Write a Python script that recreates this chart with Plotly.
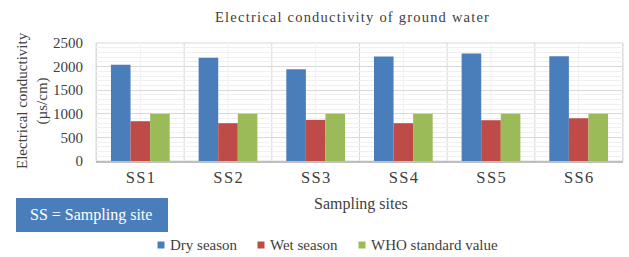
import plotly.graph_objects as go

sites = ["SS1", "SS2", "SS3", "SS4", "SS5", "SS6"]
dry = [2040, 2190, 1945, 2215, 2280, 2220]
wet = [843, 801, 871, 801, 864, 905]
who = [1000, 1000, 1000, 1000, 1000, 1000]
series_names = ["Dry season", "Wet season", "WHO standard value"]
colors = ["#4A7EBB", "#BE4B48", "#9BBB59"]

FONT = "Liberation Serif"
TXT = "#404040"
HS = "\u200a"

# plot area in pixels: x 96..623, y 43..161
L, R, T, B = 96, 623, 43, 161
W, H = R - L, B - T
px = lambda x: (x - L) / W
py = lambda y: (B - y) / H

fig = go.Figure()
for name, vals, col in zip(series_names, [dry, wet, who], colors):
    fig.add_bar(x=sites, y=vals, name=name, marker_color=col, marker_line_width=0)

fig.update_layout(
    width=629, height=257,
    margin=dict(l=L, r=629 - R, t=T, b=257 - B),
    paper_bgcolor="white", plot_bgcolor="white",
    font=dict(family=FONT, color=TXT),
    barmode="group", bargap=0.33, bargroupgap=0,
    title=dict(text=HS.join("Electrical conductivity of ground water"),
               xref="paper", x=px(352), xanchor="center",
               y=1 - 16.5 / 257, yanchor="middle",
               font=dict(size=14.5, family=FONT, color=TXT)),
    showlegend=False,
)
fig.update_xaxes(
    showgrid=False, showline=True, linecolor="#BFBFBF", linewidth=2,
    tickmode="array", tickvals=sites, ticktext=[HS.join(s) for s in sites],
    tickfont=dict(size=16.5, family=FONT, color=TXT), ticks="", automargin=False,
)
fig.update_yaxes(
    range=[0, 2500], dtick=500, showgrid=True, gridcolor="#D9D9D9", gridwidth=1,
    minor=dict(dtick=100, showgrid=True, gridcolor="#F0F0F0"),
    zeroline=False, showline=False, ticks="", automargin=False,
    tickfont=dict(size=15, family=FONT, color=TXT), ticklabelstandoff=12,
)
# plot border
fig.add_shape(type="rect", xref="paper", yref="paper", x0=0, x1=1, y0=0, y1=1,
              line=dict(color="#D9D9D9", width=1), layer="below")
# vertical gridlines at category boundaries (major) and centres (minor)
for i in range(len(sites) + 1):
    fig.add_shape(type="line", xref="x", yref="paper", x0=i - 0.5, x1=i - 0.5, y0=0, y1=1,
                  line=dict(color="#D9D9D9", width=1), layer="below")
for i in range(len(sites)):
    fig.add_shape(type="line", xref="x", yref="paper", x0=i, x1=i, y0=0, y1=1,
                  line=dict(color="#F0F0F0", width=1), layer="below")

# axis titles
fig.add_annotation(text="Electrical conductivity<br>(µs/cm)", textangle=-90,
                   xref="paper", yref="paper", x=px(32), y=py(101),
                   xanchor="center", yanchor="middle", showarrow=False,
                   font=dict(size=15, family=FONT, color=TXT))
fig.add_annotation(text="Sampling sites", xref="paper", yref="paper",
                   x=px(361), y=py(204), xanchor="center", yanchor="middle",
                   showarrow=False, font=dict(size=16, family=FONT, color=TXT))

# "SS = Sampling site" box
fig.add_shape(type="rect", xref="paper", yref="paper",
              x0=px(16), x1=px(168), y0=py(232), y1=py(198),
              fillcolor="#4A7EBB", line_width=0)
fig.add_annotation(text="SS = Sampling site", xref="paper", yref="paper",
                   x=px(28), y=py(215), xanchor="left", yanchor="middle", showarrow=False,
                   font=dict(size=16, family=FONT, color="white"))

# legend
sq_x = [157.5, 257.5, 358.5]
for name, col, sx in zip(series_names, colors, sq_x):
    fig.add_shape(type="rect", xref="paper", yref="paper",
                  x0=px(sx), x1=px(sx + 7), y0=py(248.5), y1=py(241.5),
                  fillcolor=col, line_width=0)
    fig.add_annotation(text=name, xref="paper", yref="paper",
                       x=px(sx + 10.5), y=py(244.5), xanchor="left", yanchor="middle",
                       showarrow=False, font=dict(size=15, family=FONT, color=TXT))

fig.write_html("out.html", config={"displayModeBar": False},
               post_script="document.body.style.margin='0';document.body.style.padding='0';")
